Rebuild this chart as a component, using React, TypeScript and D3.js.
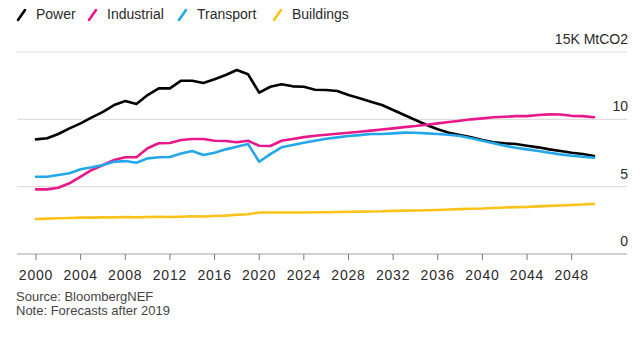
import React from "react";
import * as d3 from "d3";

const years = d3.range(2000, 2051);

const power = [
  8.51, 8.59, 8.91, 9.33, 9.7, 10.15, 10.56, 11.06, 11.36, 11.14,
  11.8, 12.3, 12.3, 12.87, 12.87, 12.7, 12.97, 13.29, 13.66, 13.35,
  11.98, 12.42, 12.6, 12.45, 12.42, 12.2, 12.18, 12.1, 11.8, 11.56,
  11.31, 11.06, 10.69, 10.32, 9.95, 9.58, 9.26, 9.01, 8.83, 8.66,
  8.46, 8.29, 8.22, 8.17, 8.04, 7.92, 7.77, 7.65, 7.52, 7.42, 7.28,
];

const industrial = [
  4.8, 4.8, 4.92, 5.25, 5.74, 6.24, 6.61, 6.98, 7.18, 7.18,
  7.85, 8.22, 8.24, 8.46, 8.54, 8.54, 8.41, 8.39, 8.3, 8.41,
  8.04, 8.02, 8.41, 8.54, 8.68, 8.78, 8.86, 8.93, 9.0, 9.08,
  9.16, 9.24, 9.33, 9.42, 9.5, 9.6, 9.7, 9.8, 9.9, 10.0,
  10.07, 10.15, 10.19, 10.24, 10.24, 10.32, 10.37, 10.36, 10.26, 10.24, 10.15,
];

const transport = [
  5.74, 5.74, 5.86, 5.99, 6.29, 6.44, 6.61, 6.85, 6.9, 6.78,
  7.1, 7.18, 7.2, 7.47, 7.65, 7.35, 7.52, 7.77, 7.97, 8.17,
  6.85, 7.42, 7.92, 8.09, 8.26, 8.41, 8.56, 8.66, 8.76, 8.83,
  8.91, 8.91, 8.96, 9.01, 9.0, 8.96, 8.91, 8.85, 8.76, 8.59,
  8.41, 8.22, 8.04, 7.89, 7.77, 7.65, 7.52, 7.4, 7.3, 7.22, 7.15,
];

const buildings = [
  2.6, 2.63, 2.65, 2.67, 2.7, 2.7, 2.72, 2.72, 2.75, 2.72,
  2.75, 2.77, 2.75, 2.77, 2.8, 2.78, 2.82, 2.85, 2.92, 2.95,
  3.08, 3.08, 3.08, 3.08, 3.08, 3.1, 3.1, 3.12, 3.14, 3.15,
  3.16, 3.17, 3.2, 3.22, 3.23, 3.25, 3.27, 3.3, 3.33, 3.36,
  3.38, 3.42, 3.45, 3.48, 3.5, 3.54, 3.57, 3.6, 3.64, 3.68, 3.72,
];

const seriesNames = ["Power", "Industrial", "Transport", "Buildings"];
const seriesColors = ["#000000", "#e8178a", "#22a7ea", "#fbc21a"];
const seriesValues = [power, industrial, transport, buildings];

const xTicks = d3.range(2000, 2049, 4);
const yTicks = [0, 5, 10, 15];
const yTickLabels = ["0", "5", "10", "15K MtCO2"];

const FONT = "'Liberation Sans', Arial, Helvetica, sans-serif";

export default function App() {
  const W = 640;
  const H = 343;
  const x = d3.scaleLinear().domain([2000, 2050]).range([36, 594]);
  const y = d3.scaleLinear().domain([0, 15]).range([254, 52]);
  const gridLeft = 17;
  const gridRight = 627;

  const line = d3
    .line<number>()
    .x((_, i) => x(years[i]))
    .y((d) => y(d))
    .curve(d3.curveLinear);

  const legendX = [17, 88, 178, 273];

  return (
    <svg
      width={W}
      height={H}
      style={{ position: "absolute", left: 0, top: 0, background: "#fff" }}
      fontFamily={FONT}
    >
      {/* legend */}
      {seriesNames.map((name, i) => (
        <g key={name} transform={`translate(${legendX[i]},0)`}>
          <line
            x1={1}
            y1={20}
            x2={8}
            y2={10}
            stroke={seriesColors[i]}
            strokeWidth={2.6}
            strokeLinecap="round"
          />
          <text x={19} y={19} fontSize={14} fill="#2a2a2a">
            {name}
          </text>
        </g>
      ))}

      {/* gridlines */}
      {yTicks
        .filter((t) => t > 0)
        .map((t) => (
          <line
            key={t}
            x1={gridLeft}
            x2={gridRight}
            y1={y(t)}
            y2={y(t)}
            stroke="#dedede"
            strokeWidth={1.2}
          />
        ))}
      {yTicks.map((t, i) => (
        <text
          key={"yl" + t}
          x={628}
          y={y(t) - 8}
          fontSize={14}
          textAnchor="end"
          fill="#2a2a2a"
        >
          {yTickLabels[i]}
        </text>
      ))}

      {/* series */}
      {seriesValues.map((vals, i) => (
        <path
          key={seriesNames[i]}
          d={line(vals) || ""}
          fill="none"
          stroke={seriesColors[i]}
          strokeWidth={2.6}
          strokeLinejoin="round"
          strokeLinecap="round"
        />
      ))}

      {/* x axis */}
      <line
        x1={gridLeft}
        x2={gridRight}
        y1={y(0)}
        y2={y(0)}
        stroke="#a0a0a0"
        strokeWidth={1.2}
      />
      {xTicks.map((t) => (
        <g key={t}>
          <line x1={x(t)} x2={x(t)} y1={y(0)} y2={y(0) + 6} stroke="#777" strokeWidth={1} />
          <text
            x={x(t)}
            y={280}
            fontSize={14}
            letterSpacing={0.8}
            textAnchor="middle"
            fill="#2a2a2a"
          >
            {t}
          </text>
        </g>
      ))}

      <text x={16} y={300.5} fontSize={13} fill="#444">
        Source: BloombergNEF
      </text>
      <text x={16} y={314.5} fontSize={13} fill="#444">
        Note: Forecasts after 2019
      </text>
    </svg>
  );
}
